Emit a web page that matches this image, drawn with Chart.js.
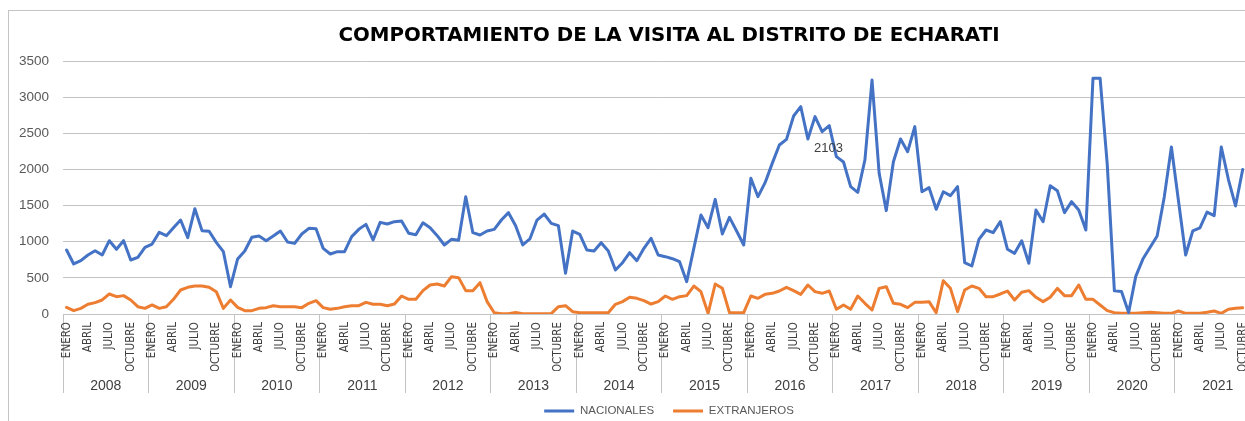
<!DOCTYPE html>
<html>
<head>
<meta charset="utf-8">
<script src="https://cdn.jsdelivr.net/npm/chart.js@4.4.0/dist/chart.umd.min.js"></script>
<style>
  html, body { margin: 0; padding: 0; background: #ffffff; overflow: hidden; width: 1245px; height: 421px; }
  #frame { position: absolute; left: 8px; top: 10px; width: 1330px; height: 440px; border: 1px solid #c4c4c4; box-sizing: border-box; }
  #c { position: absolute; left: 0; top: 0; }
</style>
</head>
<body>
<div id="frame"></div>
<canvas id="c" width="1338" height="440"></canvas>
<script>
// ---- data ----
const years = ['2008','2009','2010','2011','2012','2013','2014','2015','2016','2017','2018','2019','2020','2021'];
const monthNames = ['ENERO','FEBRERO','MARZO','ABRIL','MAYO','JUNIO','JULIO','AGOSTO','SEPTIEMBRE','OCTUBRE','NOVIEMBRE','DICIEMBRE'];

const nacionales = [
  885, 692, 738, 816, 876, 816, 1014, 895, 1014, 747, 784, 922,        // 2008
  968, 1130, 1084, 1194, 1300, 1056, 1457, 1153, 1144, 991, 862, 378,  // 2009
  761, 871, 1061, 1079, 1014, 1079, 1148, 996, 977, 1107, 1185, 1180,  // 2010
  908, 830, 862, 862, 1070, 1171, 1240, 1024, 1268, 1245, 1277, 1287,  // 2011
  1116, 1097, 1263, 1194, 1084, 955, 1033, 1019, 1623, 1125, 1093, 1148, // 2012
  1171, 1300, 1402, 1222, 955, 1038, 1300, 1383, 1254, 1222, 563, 1148, // 2013
  1102, 885, 871, 987, 871, 609, 710, 848, 738, 908, 1047, 816,        // 2014
  793, 765, 724, 447, 908, 1370, 1194, 1586, 1107, 1337, 1148, 955,    // 2015
  1877, 1623, 1817, 2084, 2338, 2416, 2739, 2868, 2421, 2730, 2522, 2605, // 2016
  2177, 2103, 1762, 1683, 2130, 3237, 1946, 1430, 2107, 2421, 2246, 2592, // 2017
  1692, 1748, 1448, 1692, 1637, 1762, 710, 664, 1033, 1162, 1125, 1277, // 2018
  895, 839, 1014, 701, 1439, 1277, 1775, 1706, 1402, 1554, 1439, 1162, // 2019
  3260, 3260, 2070, 320, 310, 20, 520, 760, 920, 1080, 1620, 2310,     // 2020
  1560, 816, 1150, 1190, 1410, 1360, 2310, 1860, 1495, 2000            // 2021
];

const extranjeros = [
  92, 46, 78, 134, 157, 194, 277, 240, 254, 194, 101, 78,     // 2008
  125, 78, 101, 203, 332, 369, 387, 387, 369, 309, 78, 194,   // 2009
  92, 46, 46, 78, 88, 115, 101, 101, 101, 88, 148, 184,       // 2010
  88, 65, 78, 101, 115, 115, 161, 134, 134, 115, 138, 249,    // 2011
  203, 203, 323, 401, 415, 387, 516, 503, 323, 323, 433, 171, // 2012
  18, 5, 5, 20, 5, 5, 5, 5, 5, 101, 115, 32,                  // 2013
  18, 18, 18, 18, 18, 134, 171, 231, 217, 184, 138, 171,      // 2014
  249, 203, 240, 254, 387, 309, 9, 415, 355, 18, 18, 18,      // 2015
  249, 217, 272, 286, 318, 369, 323, 272, 401, 309, 286, 318, // 2016
  65, 125, 65, 249, 148, 55, 355, 378, 148, 134, 88, 161,     // 2017
  161, 171, 18, 461, 355, 32, 332, 387, 355, 240, 240, 277,   // 2018
  318, 194, 300, 323, 231, 171, 231, 355, 254, 254, 401, 203, // 2019
  203, 125, 46, 18, 9, 9, 9, 18, 23, 18, 9, 9,                // 2020
  41, 9, 9, 9, 23, 41, 9, 65, 78, 88                          // 2021
];

const yTicks = [0, 500, 1000, 1500, 2000, 2500, 3000, 3500];
const labelledPoint = 109; // feb 2017 -> "2103"

// categories: every month of every year
const categories = [];
years.forEach(y => monthNames.forEach(m => categories.push(m + ' ' + y)));

const GRID = '#c3c3c3';
const TXT = '#595959';

const pointLabelPlugin = {
  id: 'pointLabel',
  afterDatasetsDraw(chart) {
    const meta = chart.getDatasetMeta(0);
    const el = meta.data[labelledPoint];
    if (!el) return;
    const ctx = chart.ctx;
    ctx.save();
    ctx.font = '13px "Liberation Sans", Arial, sans-serif';
    ctx.fillStyle = '#404040';
    ctx.textAlign = 'center';
    ctx.textBaseline = 'middle';
    ctx.fillText(String(nacionales[labelledPoint]), el.x - 15, el.y - 14);
    ctx.restore();
  }
};

new Chart(document.getElementById('c'), {
  type: 'line',
  data: {
    labels: categories,
    datasets: [
      {
        label: 'NACIONALES',
        data: nacionales,
        borderColor: '#4472C4',
        backgroundColor: '#4472C4',
        borderWidth: 3,
        pointRadius: 0,
        tension: 0,
        borderJoinStyle: 'round',
        borderCapStyle: 'round'
      },
      {
        label: 'EXTRANJEROS',
        data: extranjeros,
        borderColor: '#ED7D31',
        backgroundColor: '#ED7D31',
        borderWidth: 3,
        pointRadius: 0,
        tension: 0,
        borderJoinStyle: 'round',
        borderCapStyle: 'round'
      }
    ]
  },
  options: {
    responsive: false,
    animation: false,
    events: [],
    layout: { padding: { left: 0, right: 0, top: 0, bottom: 13.25 } },
    plugins: {
      title: {
        display: true,
        text: 'COMPORTAMIENTO DE LA VISITA AL DISTRITO DE ECHARATI',
        color: '#000000',
        font: { family: '"DejaVu Sans", "Liberation Sans", sans-serif', size: 19.8, weight: 'bold', lineHeight: 1.2 },
        padding: { top: 24, bottom: 13.24 }
      },
      legend: {
        display: true,
        position: 'bottom',
        labels: {
          usePointStyle: true,
          pointStyle: 'line',
          pointStyleWidth: 30,
          color: TXT,
          padding: 19,
          font: { family: '"Liberation Sans", Arial, sans-serif', size: 11.5 }
        }
      },
      tooltip: { enabled: false }
    },
    scales: {
      x: {
        type: 'category',
        position: 'bottom',
        weight: 0,
        offset: true,
        grid: {
          offset: true,
          drawOnChartArea: false,
          drawTicks: true,
          tickLength: 79,
          tickColor: (ctx) => (ctx.index % 12 === 0 ? GRID : 'rgba(0,0,0,0)'),
          lineWidth: 1
        },
        border: { display: true, color: GRID, width: 1 },
        ticks: {
          autoSkip: false,
          minRotation: 90,
          maxRotation: 90,
          padding: -71,
          color: '#404040',
          font: { family: '"Liberation Sans Narrow", "DejaVu Sans Condensed", sans-serif', size: 11.5 },
          callback: (val, idx) => (idx % 3 === 0 ? monthNames[idx % 12] : '')
        },
        afterFit: (s) => { s.height = 57; }
      },
      x2: {
        type: 'category',
        position: 'bottom',
        weight: 1,
        offset: true,
        labels: years,
        grid: { display: false, drawTicks: false, drawOnChartArea: false },
        border: { display: false },
        ticks: {
          autoSkip: false,
          maxRotation: 0,
          mirror: true,
          padding: -23.4,
          color: '#404040',
          font: { family: '"Liberation Sans", Arial, sans-serif', size: 14 }
        },
        afterFit: (s) => { s.height = 15.25; }
      },
      y: {
        type: 'linear',
        position: 'left',
        min: 0,
        max: 3500,
        afterBuildTicks: (s) => { s.ticks = yTicks.map(v => ({ value: v })); },
        grid: { color: GRID, drawTicks: false, lineWidth: 1 },
        border: { display: false },
        ticks: {
          padding: 14,
          color: TXT,
          font: { family: '"Liberation Sans", Arial, sans-serif', size: 13.5 },
          callback: (v) => String(v)
        },
        afterFit: (s) => { s.width = 63; }
      },
      y2: {
        type: 'linear',
        position: 'right',
        display: true,
        grid: { display: false, drawOnChartArea: false, drawTicks: false },
        border: { display: false },
        ticks: { display: false },
        afterFit: (s) => { s.width = 77.5; }
      }
    }
  },
  plugins: [pointLabelPlugin]
});
</script>
</body>
</html>
